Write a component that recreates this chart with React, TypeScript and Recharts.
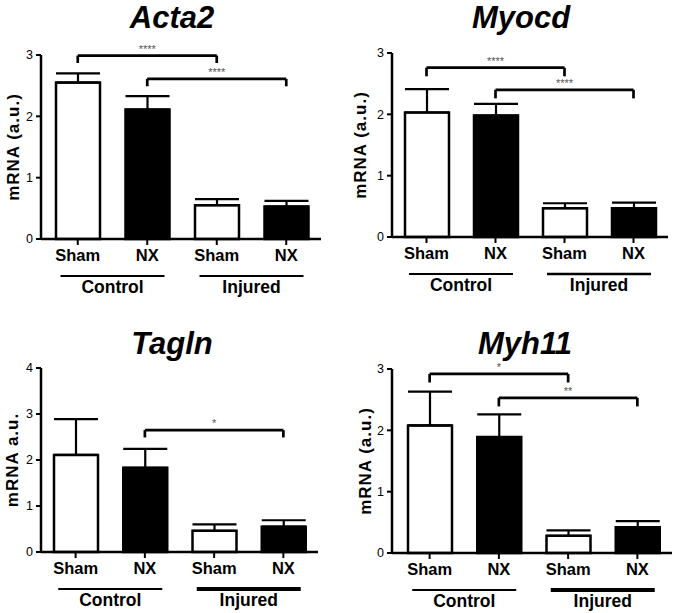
import { BarChart, Bar, XAxis, YAxis, ErrorBar, Cell, ReferenceLine } from "recharts";

const FONT = "'Liberation Sans', Arial, sans-serif";

// x categories (unique keys), their printed labels and the group they belong to
const categories = ["cSham", "cNX", "iSham", "iNX"];
const tickLabels = ["Sham", "NX", "Sham", "NX"];
const groups = ["Control", "Control", "Injured", "Injured"];
const fills = ["#ffffff", "#000000", "#ffffff", "#000000"];

// means and SEM (upper whisker only)
const acta2Mean = [2.55, 2.11, 0.55, 0.53];
const acta2Sem = [0.15, 0.22, 0.1, 0.09];
const myocdMean = [2.03, 1.98, 0.47, 0.47];
const myocdSem = [0.38, 0.19, 0.08, 0.09];
const taglnMean = [2.11, 1.83, 0.46, 0.55];
const taglnSem = [0.78, 0.41, 0.14, 0.14];
const myh11Mean = [2.08, 1.89, 0.28, 0.42];
const myh11Sem = [0.55, 0.37, 0.09, 0.1];

type Bracket = { from: string; to: string; y: number; label: string };

const acta2Brackets: Bracket[] = [
  { from: "cSham", to: "iSham", y: 2.99, label: "****" },
  { from: "cNX", to: "iNX", y: 2.61, label: "****" },
];
const myocdBrackets: Bracket[] = [
  { from: "cSham", to: "iSham", y: 2.76, label: "****" },
  { from: "cNX", to: "iNX", y: 2.4, label: "****" },
];
const taglnBrackets: Bracket[] = [{ from: "cNX", to: "iNX", y: 2.65, label: "*" }];
const myh11Brackets: Bracket[] = [
  { from: "cSham", to: "iSham", y: 2.92, label: "*" },
  { from: "cNX", to: "iNX", y: 2.53, label: "**" },
];

function GroupTick(props: any) {
  const { x, y, payload, thick } = props;
  const w = payload.value === "Injured" ? thick : 2;
  return (
    <g>
      <line x1={x - 52} x2={x + 52} y1={y + 11} y2={y + 11} stroke="#000" strokeWidth={w} />
      <text x={x} y={y + 28} textAnchor="middle" fontSize={17.5} fontWeight="bold" fill="#000" fontFamily={FONT}>
        {payload.value}
      </text>
    </g>
  );
}

function bracketLines(b: Bracket, drop: number, i: number) {
  const common = { stroke: "#000", strokeWidth: 2.7, ifOverflow: "visible" as const };
  return [
    <ReferenceLine
      key={`h${i}`}
      {...common}
      segment={[{ x: b.from, y: b.y }, { x: b.to, y: b.y }]}
      label={{ value: b.label, position: "top", offset: 3, fill: "#555", fontSize: 11, fontFamily: FONT }}
    />,
    <ReferenceLine key={`l${i}`} {...common} segment={[{ x: b.from, y: b.y }, { x: b.from, y: b.y - drop }]} />,
    <ReferenceLine key={`r${i}`} {...common} segment={[{ x: b.to, y: b.y }, { x: b.to, y: b.y - drop }]} />,
  ];
}

type PanelProps = {
  title: string;
  yLabel: string;
  mean: number[];
  sem: number[];
  brackets: Bracket[];
  yMax: number;
  drop: number;
  left: number;
  top: number;
  width: number;
  height: number;
  margin: { top: number; right: number; left: number; bottom: number };
  yWidth: number;
  xPad: number;
  titleCx: number;
  titleTop: number;
  thick: number;
};

function Panel(p: PanelProps) {
  const data = categories.map((c, i) => ({
    key: c,
    group: groups[i],
    value: p.mean[i],
    err: [0, p.sem[i]],
  }));
  const ticks = Array.from({ length: p.yMax + 1 }, (_, i) => i);
  return (
    <>
      <div
        style={{
          position: "absolute",
          left: p.titleCx - 100,
          width: 200,
          top: p.titleTop,
          textAlign: "center",
          fontFamily: FONT,
          fontSize: 31,
          lineHeight: "normal",
          fontWeight: "bold",
          fontStyle: "italic",
        }}
      >
        {p.title}
      </div>
      <div style={{ position: "absolute", left: p.left, top: p.top }}>
        <BarChart width={p.width} height={p.height} data={data} margin={p.margin}>
          <XAxis
            dataKey="key"
            interval={0}
            height={26}
            padding={{ left: p.xPad, right: 0 }}
            tickFormatter={(_v: string, i: number) => tickLabels[i]}
            tick={{ fontSize: 16.5, fontWeight: "bold", fill: "#000", fontFamily: FONT }}
            tickSize={6}
            tickMargin={4}
            tickLine={{ stroke: "#000", strokeWidth: 2 }}
            axisLine={{ stroke: "#000", strokeWidth: 2.5 }}
          />
          <XAxis
            xAxisId="grp"
            dataKey="group"
            allowDuplicatedCategory={false}
            interval={0}
            height={35}
            axisLine={false}
            tickLine={false}
            tickSize={0}
            tickMargin={0}
            padding={{ left: p.xPad, right: 0 }}
            tick={(t: any) => <GroupTick {...t} thick={p.thick} />}
          />
          <YAxis
            domain={[0, p.yMax]}
            ticks={ticks}
            width={p.yWidth}
            tickSize={5}
            tickMargin={3}
            tick={{ fontSize: 12.5, fill: "#000", fontFamily: FONT }}
            tickLine={{ stroke: "#000", strokeWidth: 2 }}
            axisLine={{ stroke: "#000", strokeWidth: 2.5 }}
            label={{
              value: p.yLabel,
              angle: -90,
              position: "insideLeft",
              offset: 5,
              style: { textAnchor: "middle", fontSize: 17, fontWeight: "bold", letterSpacing: 1, fill: "#000", fontFamily: FONT },
            }}
          />
          <Bar dataKey="value" barSize={44} stroke="#000" strokeWidth={2.5} isAnimationActive={false}>
            {data.map((_d, i) => (
              <Cell key={i} fill={fills[i]} />
            ))}
            <ErrorBar dataKey="err" width={22} stroke="#000" strokeWidth={2.2} direction="y" />
          </Bar>
          {p.brackets.flatMap((b, i) => bracketLines(b, p.drop, i))}
        </BarChart>
      </div>
    </>
  );
}

export default function App() {
  return (
    <div style={{ position: "absolute", left: 0, top: 0, width: 675, height: 613, background: "#fff", overflow: "hidden" }}>
      <Panel
        title="Acta2" yLabel="mRNA (a.u.)" mean={acta2Mean} sem={acta2Sem} brackets={acta2Brackets}
        yMax={3} drop={0.12} left={0} top={0} width={337} height={300}
        margin={{ top: 55, right: 16, left: 8, bottom: 0 }} yWidth={33} xPad={2}
        titleCx={172} titleTop={0} thick={2}
      />
      <Panel
        title="Myocd" yLabel="mRNA (a.u.)" mean={myocdMean} sem={myocdSem} brackets={myocdBrackets}
        yMax={3} drop={0.14} left={337} top={0} width={338} height={298}
        margin={{ top: 53, right: 7, left: 18, bottom: 0 }} yWidth={37} xPad={0}
        titleCx={521} titleTop={0} thick={2.5}
      />
      <Panel
        title="Tagln" yLabel="mRNA  a.u." mean={taglnMean} sem={taglnSem} brackets={taglnBrackets}
        yMax={4} drop={0.16} left={0} top={310} width={337} height={303}
        margin={{ top: 58, right: 19, left: 7, bottom: 0 }} yWidth={34} xPad={0}
        titleCx={172} titleTop={326} thick={4}
      />
      <Panel
        title="Myh11" yLabel="mRNA (a.u.)" mean={myh11Mean} sem={myh11Sem} brackets={myh11Brackets}
        yMax={3} drop={0.14} left={337} top={310} width={338} height={304}
        margin={{ top: 59, right: 3, left: 23, bottom: 0 }} yWidth={32} xPad={3}
        titleCx={525} titleTop={326} thick={4}
      />
    </div>
  );
}
